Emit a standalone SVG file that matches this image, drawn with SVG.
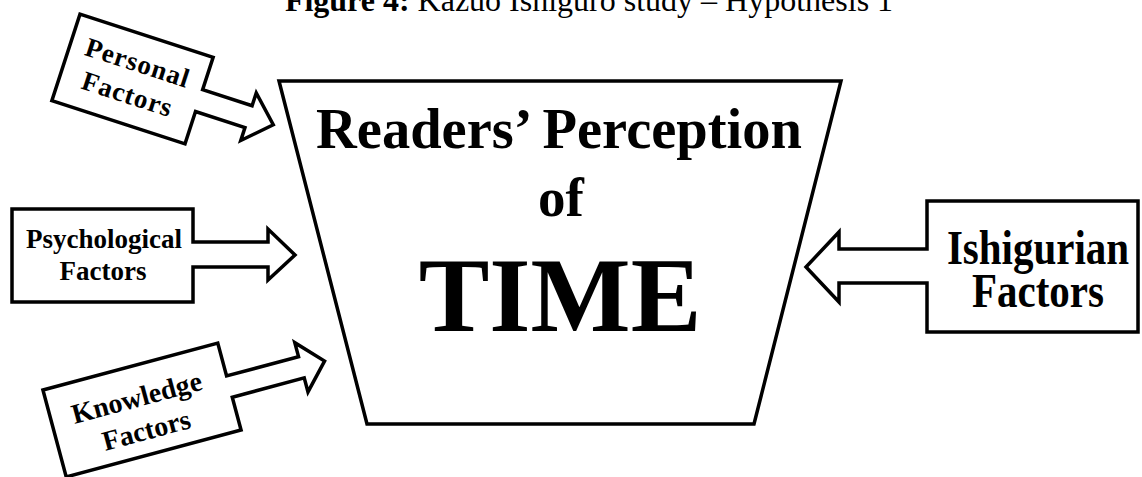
<svg xmlns="http://www.w3.org/2000/svg" width="1142" height="477" viewBox="0 0 1142 477">
<style>
.shape{fill:#fff;stroke:#000;stroke-width:3.5;stroke-linejoin:miter}
.t{font-family:"Liberation Serif","Times New Roman",serif;font-weight:bold;fill:#000;text-anchor:middle}
</style>
<rect width="1142" height="477" fill="#fff"/>
<text x="589" y="11" font-family="Liberation Serif,serif" font-size="32" text-anchor="middle" fill="#000"><tspan font-weight="bold">Figure 4:</tspan> Kazuo Ishiguro study – Hypothesis 1</text>
<g id="connectors"></g>
<g id="center">
<polygon class="shape" points="279,81 841,81 754,424 367,424"/>
<text class="t" x="559" y="148" font-size="56.5">Readers’ Perception</text>
<text class="t" x="561" y="216" font-size="55">of</text>
<text class="t" x="560" y="331" font-size="106">TIME</text>
</g>
<g id="personal" transform="translate(132.5,79) rotate(18)">
<path class="shape" d="M-70,-45.5 H70 V-11.5 H122 V-25 L148,0 L122,25 V11.5 H70 V45.5 H-70 Z"/>
<text class="t" x="0" y="-8" font-size="27" letter-spacing="1">Personal</text>
<text class="t" x="0" y="25" font-size="27" letter-spacing="1">Factors</text>
</g>
<g id="psychological">
<path class="shape" d="M12,209 H193 V242 H268 V229 L295,255 L268,280 V267 H193 V302 H12 Z"/>
<text class="t" x="104" y="248" font-size="27">Psychological</text>
<text class="t" x="103" y="280" font-size="27">Factors</text>
</g>
<g id="knowledge" transform="translate(142,410) rotate(-15)">
<path class="shape" d="M-90.5,-45 H90.5 V-11 H165 V-25.5 L189,0 L165,25.5 V11 H90.5 V45 H-90.5 Z"/>
<text class="t" x="-2" y="-4" font-size="28">Knowledge</text>
<text class="t" x="-1" y="30" font-size="28">Factors</text>
</g>
<g id="ishigurian">
<path class="shape" d="M1138,201 H927 V249 H839 V232 L806,267 L839,302 V283 H927 V332 H1138 Z"/>
<text class="t" transform="translate(1038,264) scale(1,1.2)" font-size="41">Ishigurian</text>
<text class="t" transform="translate(1038,307) scale(1,1.2)" font-size="41">Factors</text>
</g>
</svg>
